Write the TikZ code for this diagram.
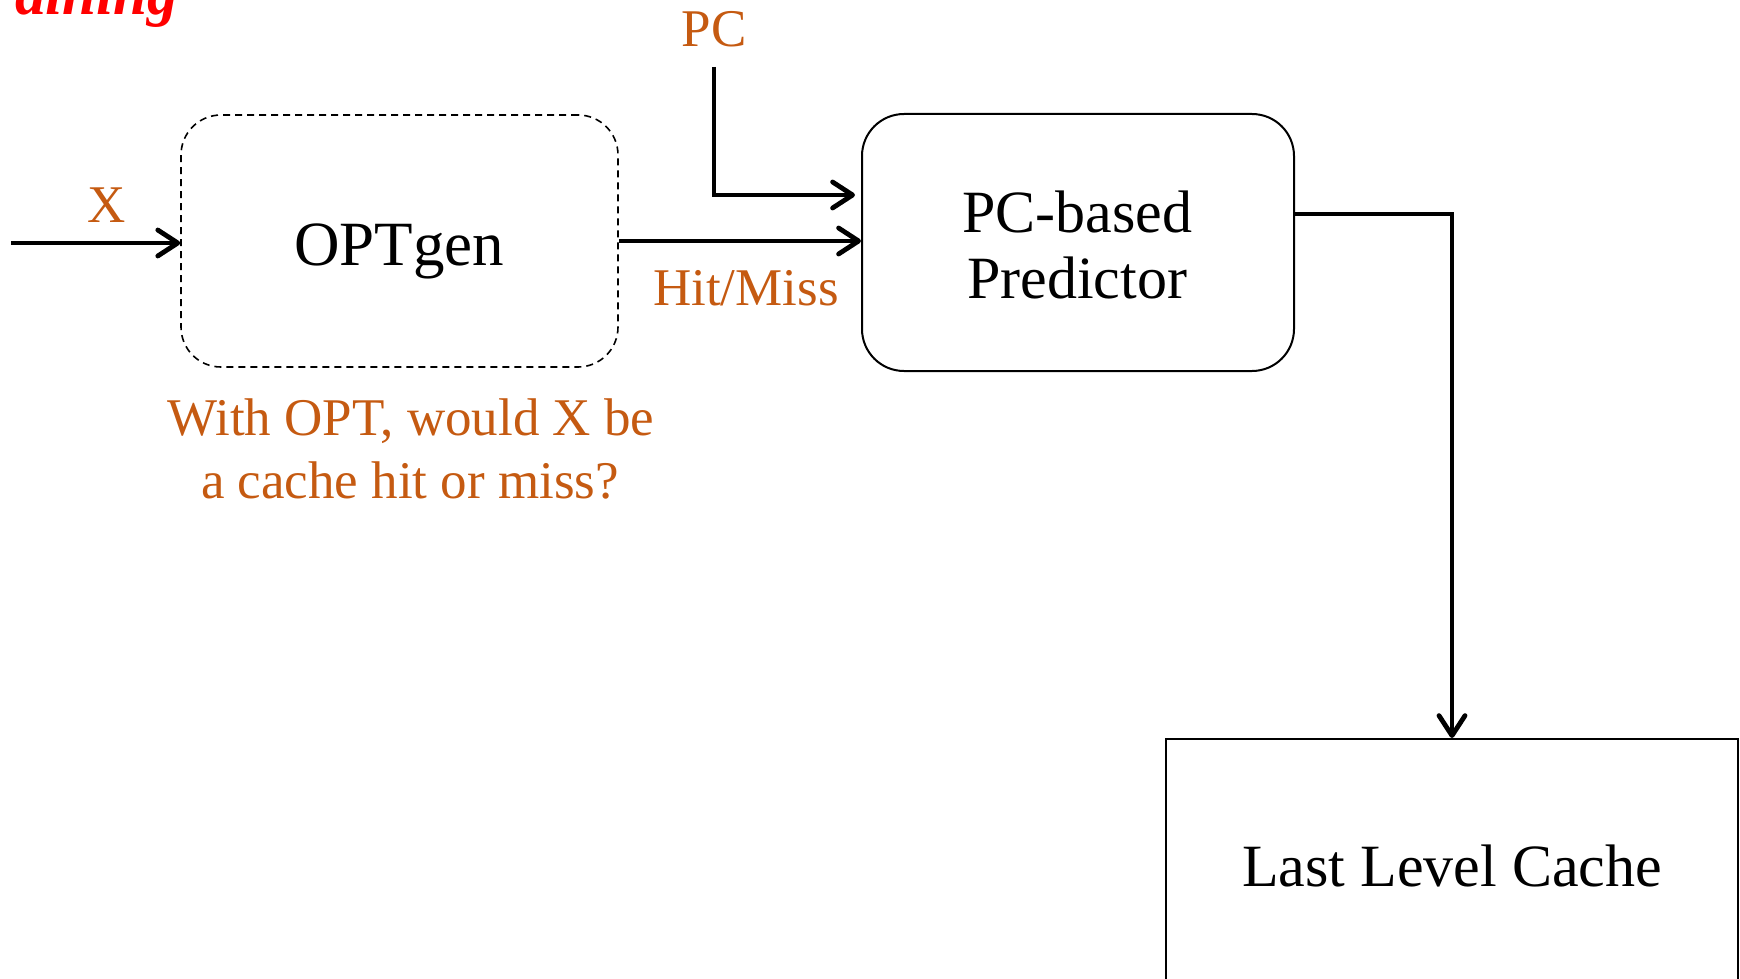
\documentclass[tikz,border=0pt]{standalone}
\usepackage{fontspec}
\setmainfont{Liberation Serif}
\usetikzlibrary{arrows.meta,calc}
\definecolor{labelorange}{HTML}{C55A11}
\definecolor{titlered}{HTML}{FF0000}
\tikzset{
  main text/.style={font=\fontsize{30}{33}\selectfont, anchor=base, inner sep=0pt},
  note text/.style={font=\fontsize{26.5}{30}\selectfont, text=labelorange, anchor=base, inner sep=0pt},
  dashbox/.style={draw, dashed, dash pattern=on 3.5pt off 2.5pt, line width=0.8pt, rounded corners=20pt, inner sep=0pt},
  roundbox/.style={draw, line width=1pt, rounded corners=21pt, inner sep=0pt},
  plainbox/.style={draw, line width=1pt, inner sep=0pt},
  flow/.style={line width=2.2pt, -{Straight Barb[length=10pt,width=13pt,line width=2.4pt,round]}},
}
\begin{document}
\begin{tikzpicture}[x=0.5pt, y=-0.5pt]
  \useasboundingbox (0,0) rectangle (1740,979);
  \clip (0,0) rectangle (1740,979);

  % heading fragment
  \node[font=\fontsize{30.5}{33}\selectfont\bfseries\itshape, text=titlered,
        anchor=base west, inner sep=0pt] (head) at (15,15) {aining};

  % blocks
  \node[dashbox, minimum width=218.5pt, minimum height=126pt] (opt) at (399.5,241) {};
  \node[main text, font=\fontsize{31.5}{34}\selectfont] (opttext) at (399,265) {OPTgen};

  \node[roundbox, minimum width=216pt, minimum height=128.5pt] (pred) at (1078,242.5) {};
  \node[main text] (predtext1) at (1077,232) {PC-based};
  \node[main text] (predtext2) at (1077,298) {Predictor};

  \node[plainbox, minimum width=286pt, minimum height=135.5pt] (llc) at (1452,874.5) {};
  \node[main text] (llctext) at (1452,886) {Last Level Cache};

  % labels
  \node[note text] (xlabel) at (107,222) {X};
  \node[note text] (pclabel) at (714,47) {PC};
  \node[note text] (hmlabel) at (746,305) {Hit/Miss};
  \node[note text] (q1) at (411,435) {With OPT, would X be};
  \node[note text] (q2) at (410,498) {a cache hit or miss?};

  % connectors
  \coordinate (xin) at (11,243);
  \coordinate (pcin) at (714,67);
  \draw[flow] (xin) -- (xin -| opt.west);
  \draw[flow, shorten >=3pt] (pcin) |- ($(pred.west)+(0,-47.5)$);
  \draw[flow, line width=1.8pt] (opt.east) -- (opt.east -| pred.west);
  \draw[flow, line width=2pt] ($(pred.east)+(0,-28.5)$) -| (llc.north);
\end{tikzpicture}
\end{document}
